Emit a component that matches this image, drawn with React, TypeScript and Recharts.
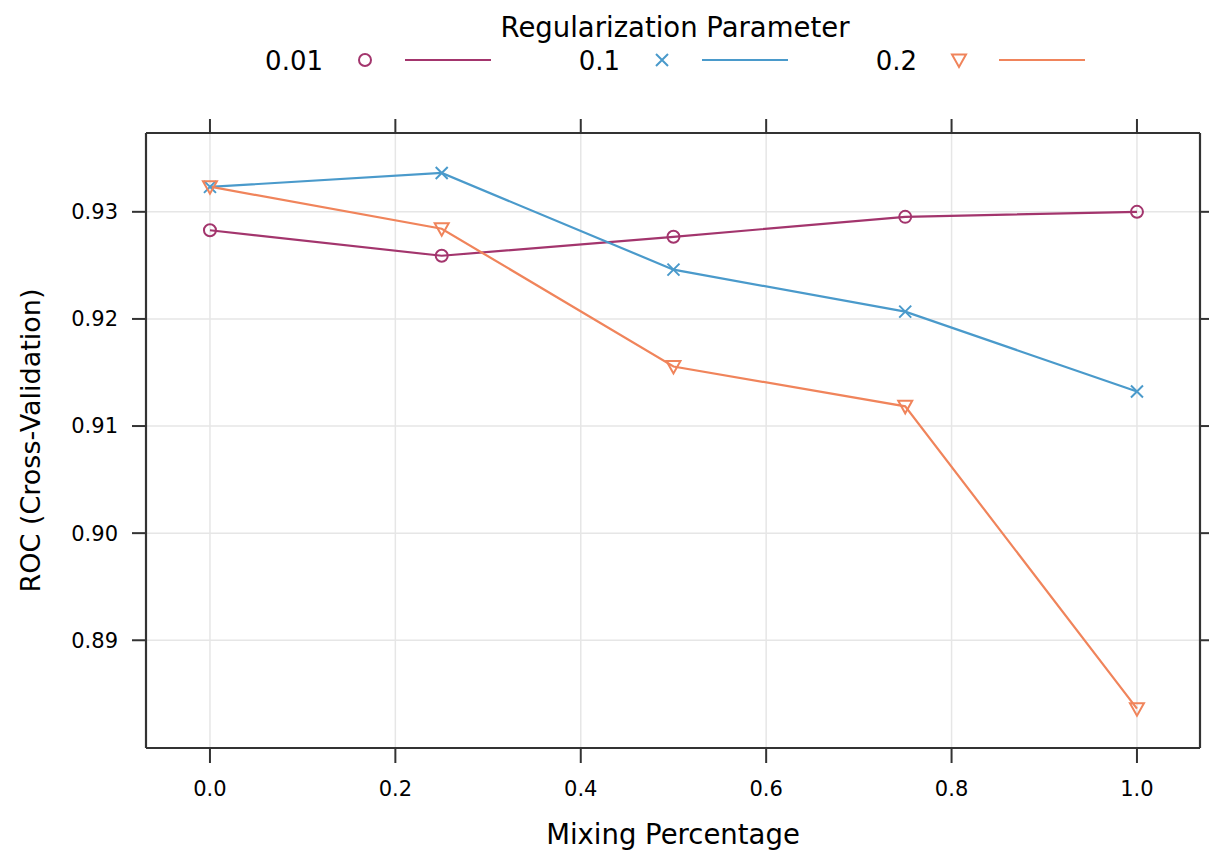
import { LineChart, Line, XAxis, YAxis, CartesianGrid } from "recharts";

// values
const mixing = [0, 0.25, 0.5, 0.75, 1.0];
const roc001 = [0.92828, 0.9259, 0.92767, 0.92953, 0.93];
const roc01 = [0.93233, 0.93363, 0.9246, 0.92068, 0.91323];
const roc02 = [0.93235, 0.92842, 0.91556, 0.91184, 0.88361];
const paramLabels = ["0.01", "0.1", "0.2"];
const xTicks = [0, 0.2, 0.4, 0.6, 0.8, 1.0];
const yTicks = [0.89, 0.9, 0.91, 0.92, 0.93];

const colors = ["#a3356d", "#4a9acb", "#f0845b"];
const FONT = "'DejaVu Sans', 'Liberation Sans', sans-serif";
const FRAME = "#333";
const xDomain = [-0.069, 1.068];
const yDomain = [0.87994, 0.93736];

const data = mixing.map((m, i) => ({
  mix: m,
  r001: roc001[i],
  r01: roc01[i],
  r02: roc02[i],
}));

// marker shapes (lattice pch 1, 4, 6)
const Circle = ({ cx, cy, color }: any) => (
  <circle cx={cx} cy={cy} r={6} fill="none" stroke={color} strokeWidth={2} />
);
const Cross = ({ cx, cy, color }: any) => (
  <path
    d={`M${cx - 6},${cy - 6}L${cx + 6},${cy + 6}M${cx - 6},${cy + 6}L${cx + 6},${cy - 6}`}
    stroke={color}
    strokeWidth={2}
    fill="none"
  />
);
const Triangle = ({ cx, cy, color }: any) => (
  <path
    d={`M${cx - 7},${cy - 5.5}L${cx + 7},${cy - 5.5}L${cx},${cy + 7}Z`}
    stroke={color}
    strokeWidth={2}
    fill="none"
  />
);
const markers = [Circle, Cross, Triangle];

const makeDot = (k: number) => (p: any) => {
  const M = markers[k];
  if (p.cx == null || p.cy == null) return <g key={p.index} />;
  return (
    <g key={p.index}>
      <M cx={p.cx} cy={p.cy} color={colors[k]} />
    </g>
  );
};

const Legend = () => (
  <svg
    width={1209}
    height={100}
    style={{ position: "absolute", left: 0, top: 0, pointerEvents: "none" }}
  >
    <text x={675} y={37} textAnchor="middle" fontFamily={FONT} fontSize={27.5} fill="#000">
      Regularization Parameter
    </text>
    {paramLabels.map((lab, i) => {
      const sx = 365 + i * 297;
      const M = markers[i];
      return (
        <g key={lab}>
          <text x={sx - 42} y={70} textAnchor="end" fontFamily={FONT} fontSize={26} fill="#000">
            {lab}
          </text>
          <M cx={sx} cy={60} color={colors[i]} />
          <line x1={sx + 40} x2={sx + 126} y1={60} y2={60} stroke={colors[i]} strokeWidth={2.2} />
        </g>
      );
    })}
  </svg>
);

const tickStyle = { fill: "#000", fontSize: 21, fontFamily: FONT };

export default function App() {
  return (
    <div style={{ position: "absolute", left: 0, top: 0, width: 1209, height: 852, background: "#fff" }}>
      <LineChart
        width={1209}
        height={852}
        data={data}
        margin={{ top: 113, right: 0, bottom: 0, left: 0 }}
      >
        <CartesianGrid stroke="#e6e6e6" strokeWidth={1.5} />
        <XAxis
          dataKey="mix"
          type="number"
          domain={xDomain}
          ticks={xTicks}
          allowDataOverflow
          tickFormatter={(v) => v.toFixed(1)}
          height={104}
          tickSize={15}
          tickMargin={18}
          tick={tickStyle}
          axisLine={{ stroke: FRAME, strokeWidth: 2.2 }}
          tickLine={{ stroke: FRAME, strokeWidth: 2 }}
          label={{
            content: (p: any) => {
              const vb = p.viewBox;
              return (
                <text
                  x={vb.x + vb.width / 2}
                  y={vb.y + 96}
                  textAnchor="middle"
                  fontFamily={FONT}
                  fontSize={27.5}
                  fill="#000"
                >
                  Mixing Percentage
                </text>
              );
            },
          }}
        />
        <XAxis
          xAxisId="top"
          orientation="top"
          dataKey="mix"
          type="number"
          domain={xDomain}
          ticks={xTicks}
          allowDataOverflow
          tickFormatter={() => ""}
          height={20}
          tickSize={14}
          axisLine={{ stroke: FRAME, strokeWidth: 2.2 }}
          tickLine={{ stroke: FRAME, strokeWidth: 2 }}
        />
        <YAxis
          type="number"
          domain={yDomain}
          ticks={yTicks}
          allowDataOverflow
          tickFormatter={(v) => v.toFixed(2)}
          width={146}
          tickSize={14}
          tickMargin={14}
          tick={tickStyle}
          axisLine={{ stroke: FRAME, strokeWidth: 2.2 }}
          tickLine={{ stroke: FRAME, strokeWidth: 2 }}
          label={{
            content: (p: any) => {
              const vb = p.viewBox;
              const cx = vb.x + 30;
              const cy = vb.y + vb.height / 2;
              return (
                <text
                  x={cx}
                  y={cy}
                  transform={`rotate(-90, ${cx}, ${cy})`}
                  textAnchor="middle"
                  dominantBaseline="central"
                  fontFamily={FONT}
                  fontSize={27}
                  fill="#000"
                >
                  ROC (Cross-Validation)
                </text>
              );
            },
          }}
        />
        <YAxis
          yAxisId="right"
          orientation="right"
          type="number"
          domain={yDomain}
          ticks={yTicks}
          allowDataOverflow
          tickFormatter={() => ""}
          width={9}
          tickSize={14}
          axisLine={{ stroke: FRAME, strokeWidth: 2.2 }}
          tickLine={{ stroke: FRAME, strokeWidth: 2 }}
        />
        <Line
          type="linear"
          dataKey="r001"
          stroke={colors[0]}
          strokeWidth={2.2}
          dot={makeDot(0)}
          activeDot={false}
          isAnimationActive={false}
        />
        <Line
          type="linear"
          dataKey="r01"
          stroke={colors[1]}
          strokeWidth={2.2}
          dot={makeDot(1)}
          activeDot={false}
          isAnimationActive={false}
        />
        <Line
          type="linear"
          dataKey="r02"
          stroke={colors[2]}
          strokeWidth={2.2}
          dot={makeDot(2)}
          activeDot={false}
          isAnimationActive={false}
        />
      </LineChart>
      <Legend />
    </div>
  );
}
